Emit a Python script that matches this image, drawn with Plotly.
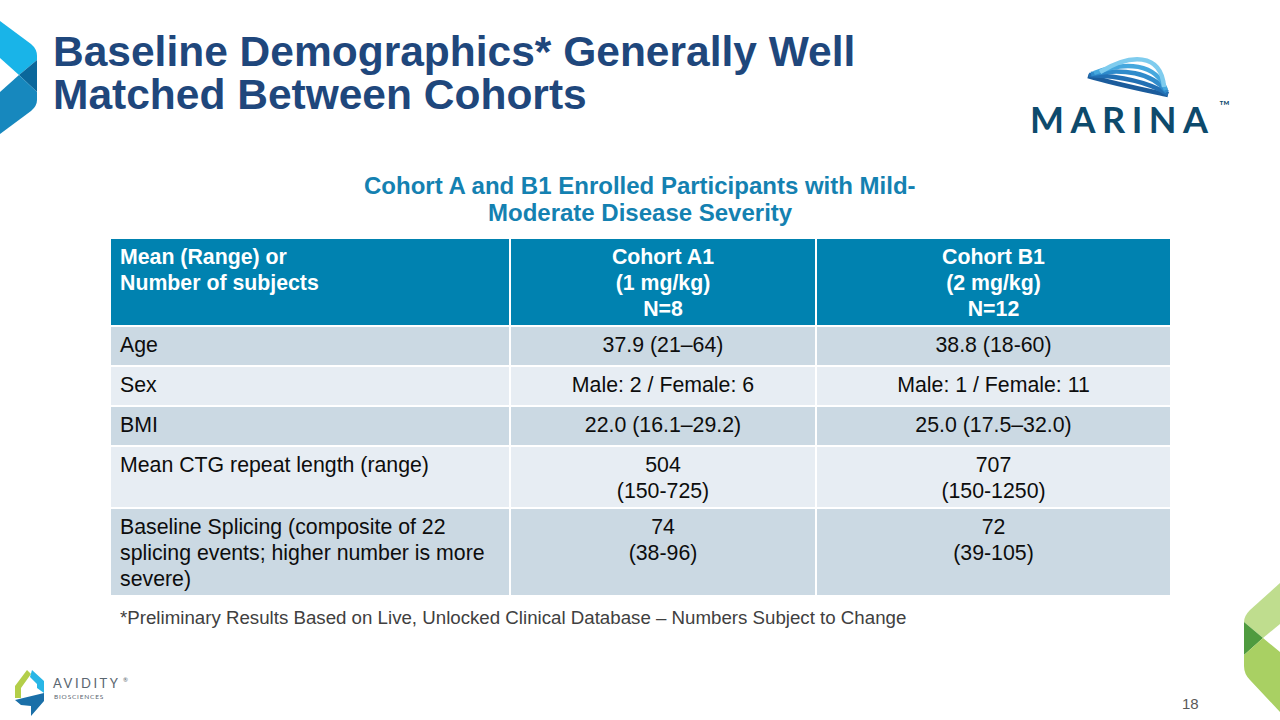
import plotly.graph_objects as go

# ---------------- data ----------------
header_labels = [
    "Mean (Range) or<br>Number of subjects",
    "Cohort A1<br>(1 mg/kg)<br>N=8",
    "Cohort B1<br>(2 mg/kg)<br>N=12",
]
row_labels = [
    "Age",
    "Sex",
    "BMI",
    "Mean CTG repeat length (range)",
    "Baseline Splicing (composite of 22<br>splicing events; higher number is more<br>severe)",
]
cohort_a1 = [
    "37.9 (21–64)",
    "Male: 2 / Female: 6",
    "22.0 (16.1–29.2)",
    "504<br>(150-725)",
    "74<br>(38-96)",
]
cohort_b1 = [
    "38.8 (18-60)",
    "Male: 1 / Female: 11",
    "25.0 (17.5–32.0)",
    "707<br>(150-1250)",
    "72<br>(39-105)",
]
title_lines = ["Baseline Demographics* Generally Well", "Matched Between Cohorts"]
subtitle_lines = ["Cohort A and B1 Enrolled Participants with Mild-", "Moderate Disease Severity"]
footnote = "*Preliminary Results Based on Live, Unlocked Clinical Database – Numbers Subject to Change"
page_number = "18"

# ---------------- styles / layout geometry ----------------
W, H = 1280, 720
FONT = "Liberation Sans, Arial, sans-serif"
HEADER_BLUE = "#0082B0"
ROW_DARK = "#CBD9E3"
ROW_LIGHT = "#E7EDF3"
TITLE_COLOR = "#1F477C"
SUB_COLOR = "#1481B1"
TABLE_FONT = 21.3
col_edges = [110, 510, 816, 1171]
table_top = 238
line_gap = 26
first_line = 21
text_pad = 10

columns = [[header_labels[i]] + col for i, col in
           enumerate([row_labels, cohort_a1, cohort_b1])]
n_rows = len(columns[0])
n_lines = [max(c[r].count("<br>") + 1 for c in columns) for r in range(n_rows)]
heights = [max(40, 10 + line_gap * n) for n in n_lines]
tops = []
y = table_top
for h in heights:
    tops.append(y)
    y += h
centers = [t + h / 2 for t, h in zip(tops, heights)]
fills = [HEADER_BLUE] + [ROW_DARK if i % 2 == 0 else ROW_LIGHT for i in range(n_rows - 1)]

fig = go.Figure()

# cell backgrounds (horizontal bars in a pixel-space axis)
for ci in range(3):
    fig.add_trace(go.Bar(
        orientation="h", y=centers, width=heights,
        base=[col_edges[ci]] * n_rows, x=[col_edges[ci + 1] - col_edges[ci]] * n_rows,
        marker=dict(color=fills, line=dict(color="white", width=2)),
        hoverinfo="skip", showlegend=False,
    ))

# cell texts, one point per text line
for ci in range(3):
    xs, ys, ts, cols = [], [], [], []
    for r in range(n_rows):
        for li, line in enumerate(columns[ci][r].split("<br>")):
            if ci == 0:
                xs.append(col_edges[0] + text_pad)
            else:
                xs.append((col_edges[ci] + col_edges[ci + 1]) / 2)
            ys.append(tops[r] + first_line + li * line_gap)
            ts.append(f"<b>{line}</b>" if r == 0 else line)
            cols.append("white" if r == 0 else "#0d0d0d")
    fig.add_trace(go.Scatter(
        x=xs, y=ys, text=ts, mode="text",
        textposition="middle right" if ci == 0 else "middle center",
        textfont=dict(family=FONT, size=TABLE_FONT, color=cols),
        marker=dict(size=0.1), cliponaxis=False,
        hoverinfo="skip", showlegend=False,
    ))

shapes = []
def path(d, color):
    shapes.append(dict(type="path", xref="x", yref="y", path=d, fillcolor=color,
                       line=dict(color=color, width=0), layer="above"))

def curve(d, color, width):
    shapes.append(dict(type="path", xref="x", yref="y", path=d,
                       line=dict(color=color, width=width), layer="above"))

# top-left blue ribbon
path("M0,21 L31,44 Q37,49 37,56 L37,60 L19,75 L0,58 Z", "#19B4E8")
path("M37,60 L19,75 L37,92 Z", "#0A679B")
path("M0,92 L19,75 L37,92 L37,100 Q37,106 31,111 L0,134 Z", "#1788BE")

# bottom-right green ribbon
path("M1280,583 L1250,610 Q1244,616 1244,622 L1263,638 L1280,624 Z", "#BFDD8E")
path("M1244,622 L1263,638 L1244,655 Z", "#4F9B3F")
path("M1244,655 L1263,638 L1280,652 L1280,712 L1250,680 Q1244,674 1244,666 Z", "#A9D063")

# Marina wave
curve("M1088,76 C1115,84 1145,90 1168,95", "#1B5C9C", 4.5)
curve("M1089,75 C1118,76 1148,82 1168,94", "#2270B4", 4.5)
curve("M1091,74 C1122,68 1152,72 1167,92", "#2F8BCB", 4.5)
curve("M1094,73 C1126,61 1156,63 1166,90", "#45A8DE", 4.5)
curve("M1100,72 C1130,54 1161,52 1164,87", "#7FCCEE", 4.5)

# Avidity icon
path("M15,686 L27,670 L31,674 L21,688 L21,698 L15,698 Z", "#B3CE49")
path("M32,670 L44,681 L44,693 L37,688 L37,684 L30,677 Z", "#29B6E6")
path("M15,700 L44,693 L44,701 L31,716 L31,706 L21,705 Z", "#1A6FA8")

annotations = []
def text(x, y, s, size, color, xanchor="left", bold=False, family=FONT, align="left"):
    annotations.append(dict(
        x=x, y=y, xref="x", yref="y", text=f"<b>{s}</b>" if bold else s,
        showarrow=False, xanchor=xanchor, yanchor="middle", align=align,
        font=dict(family=family, size=size, color=color),
    ))

text(51, 51.5, title_lines[0], 42.5, TITLE_COLOR, bold=True)
text(51, 94, title_lines[1], 42.5, TITLE_COLOR, bold=True)
text(640, 185, subtitle_lines[0], 24, SUB_COLOR, xanchor="center", bold=True)
text(640, 212, subtitle_lines[1], 24, SUB_COLOR, xanchor="center", bold=True)
text(118, 617, footnote, 18.7, "#404040")
text(1201, 703, page_number, 15, "#595959", xanchor="right")
text(1122, 119, '<span style="letter-spacing:6.5px">MARINA</span>', 36, "#0D4A6C",
     xanchor="center", family="Lato, Inter, sans-serif", bold=True)
text(1224, 105, "™", 14, "#0D4A6C", xanchor="center", family="Lato, sans-serif")
text(51, 683, '<span style="letter-spacing:2.5px">AVIDITY</span>', 13, "#5A6670",
     family="Lato, sans-serif")
text(121, 679, "®", 6, "#5A6670", family="Lato, sans-serif")
text(52, 696, '<span style="letter-spacing:0.8px">BIOSCIENCES</span>', 6.5, "#5A6670",
     family="Lato, sans-serif")

fig.update_layout(
    width=W, height=H,
    margin=dict(l=0, r=0, t=0, b=0),
    paper_bgcolor="white", plot_bgcolor="white",
    barmode="overlay", bargap=0,
    xaxis=dict(range=[0, W], visible=False, domain=[0, 1], fixedrange=True),
    yaxis=dict(range=[H, 0], visible=False, domain=[0, 1], fixedrange=True),
    shapes=shapes, annotations=annotations, showlegend=False,
)

fig.write_html("out.html", config={"displayModeBar": False},
               post_script="document.body.style.margin='0px';")
